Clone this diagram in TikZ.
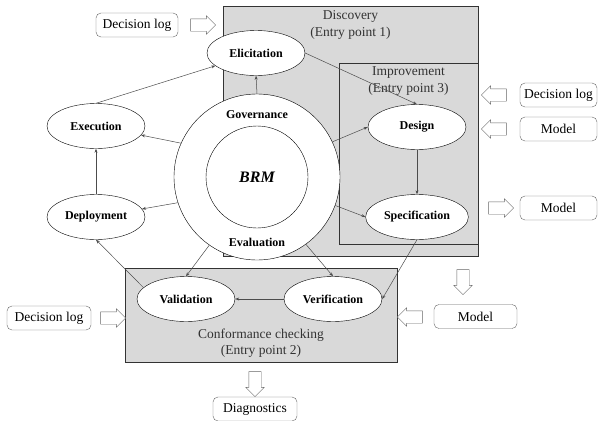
\documentclass[tikz,border=0pt]{standalone}
\usepackage{fontspec}
\setmainfont{Liberation Serif}
\usetikzlibrary{
	positioning,
	arrows.meta,
	shapes.geometric,
	shapes.arrows
}

\begin{document}
\begin{tikzpicture}[
			x=1pt,y=-1pt,
			node distance=6pt,
			area/.style={
				draw=black!80,
				fill=black!15,
				line width=0.6pt
			},
			phase/.style={
				draw,
				ellipse,
				fill=white,
				minimum width=98pt,
				minimum height=45pt,
				font=\fontsize{12}{14}\selectfont\bfseries
			},
			ioblock/.style={
				draw=black!60,
				rounded corners=5pt,
				fill=white,
				minimum height=24pt,
				font=\fontsize{13.5}{15}\selectfont
			},
			title/.style={
				align=center,
				font=\fontsize{13.5}{16.5}\selectfont,
				text=black!80
			},
			bigarrow/.style={
				single arrow,
				draw=black!60,
				fill=white,
				minimum height=25pt,
				single arrow head extend=3pt,
				inner sep=6pt
			},
			arrow/.style={-{Stealth[length=4pt,width=3pt]},draw=black!70,line width=0.5pt}
			]
			
			\useasboundingbox (0,0) rectangle (598,421);
			
			\node[area,minimum width=255pt,minimum height=250pt] (disc) at (350.5,131) {};
			\node[area,minimum width=139pt,minimum height=181pt] (impr) at (408.5,153.5) {};
			\node[area,minimum width=272pt,minimum height=94pt] (conf) at (261,315) {};
			
			\node[title] (disct) at (350.5,25) {Discovery\\(Entry point 1)};
			\node[title] (imprt) at (408.5,81) {Improvement\\(Entry point 3)};
			\node[title] (conft) at (261,343) {Conformance checking\\(Entry point 2)};
			
			\node[circle,draw,fill=white,minimum size=166pt] (ring) at (257,177) {};
			\node[circle,draw,minimum size=102pt,font=\fontsize{16}{18}\selectfont\bfseries\itshape] (brm) at (257,177) {BRM};
			\node[font=\fontsize{12}{14}\selectfont\bfseries] (gov) at (257,115) {Governance};
			\node[font=\fontsize{12}{14}\selectfont\bfseries] (eval) at (257,242) {Evaluation};
			
			\node[phase] (eli) at (256,53) {Elicitation};
			\node[phase] (exe) at (96,126) {Execution};
			\node[phase] (dep) at (96,217) {Deployment};
			\node[phase] (des) at (417,127) {Design};
			\node[phase] (spec) at (417,217) {Specification};
			\node[phase] (ver) at (333,299) {Verification};
			\node[phase] (val) at (186,299) {Validation};
			
			\node[ioblock,minimum width=82pt] (log1) at (137,25) {Decision log};
			\node[ioblock,minimum width=77pt] (log2) at (558.5,95) {Decision log};
			\node[ioblock,minimum width=77pt] (mod1) at (558.5,129) {Model};
			\node[ioblock,minimum width=77pt] (mod2) at (558.5,208) {Model};
			\node[ioblock,minimum width=83pt] (mod3) at (475.5,316.5) {Model};
			\node[ioblock,minimum width=84pt] (log3) at (49,318) {Decision log};
			\node[ioblock,minimum width=84pt] (diag) at (255,409) {Diagnostics};
			
			\node[bigarrow] (in1) at (200,25) {};
			\node[bigarrow,shape border rotate=180] (in2) at (497,95) {};
			\node[bigarrow,shape border rotate=180] (in3) at (497,129) {};
			\node[bigarrow] (out1) at (498,208) {};
			\node[bigarrow,shape border rotate=270] (out2) at (463,279) {};
			\node[bigarrow,shape border rotate=180] (in4) at (413,317) {};
			\node[bigarrow] (in5) at (110,318) {};
			\node[bigarrow,shape border rotate=270] (out3) at (255,381) {};
			
			\draw[arrow] (exe.north)--(eli);
			\draw[arrow] (dep)--(exe);
			\draw[arrow] (ring.156)--(exe);
			\draw[arrow] (ring.198)--(dep);
			\draw[arrow] (ring.north)--(eli.south);
			\draw[arrow] (eli.east)--(des.north);
			\draw[arrow] (ring.25)--(des.west);
			\draw[arrow] (des)--(spec);
			\draw[arrow] (ring.-20)--(spec.west);
			\draw[arrow] (ring.235)--(val.north);
			\draw[arrow] (ring.306)--(ver.north);
			\draw[arrow] (spec.south)--(ver.east);
			\draw[arrow] (ver)--(val);
			\draw[arrow] (val.165)--(dep.south);
			
		\end{tikzpicture}
\end{document}
